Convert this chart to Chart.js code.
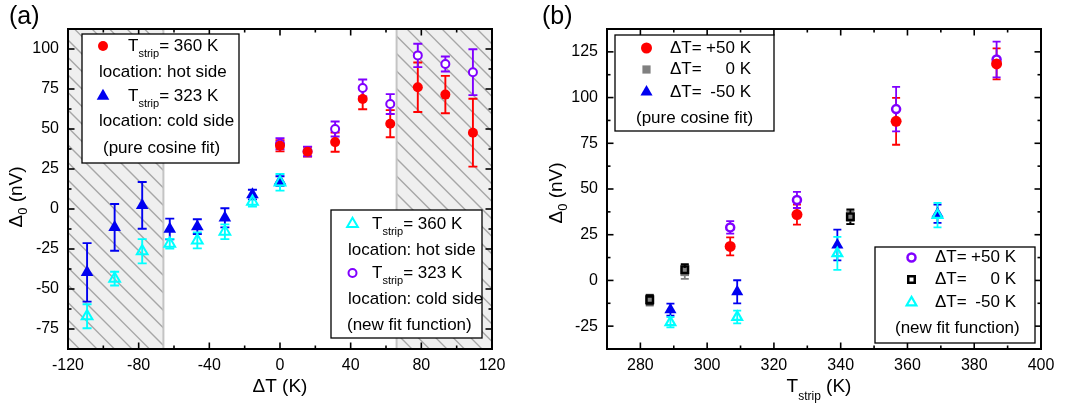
<!DOCTYPE html>
<html><head><meta charset="utf-8">
<script src="https://cdn.jsdelivr.net/npm/chart.js"></script>
<style>
html,body{margin:0;padding:0;background:#fff;}
#wrap{position:relative;width:1075px;height:407px;overflow:hidden;background:#fff;}
canvas{position:absolute;top:0;}
#ca{left:0;} #cb{left:537px;}
</style></head><body>
<div id="wrap"><canvas id="ca" width="537" height="407"></canvas><canvas id="cb" width="538" height="407"></canvas></div>
<script>
// ---------------- Panel (a) data: Δ0 (nV) vs ΔT (K) ----------------
const dTPos = [0, 15.6, 31.2, 46.8, 62.4, 78, 93.6, 109.2];
const dTNeg = [-109.2, -93.6, -78, -62.4, -46.8, -31.2, -15.6, 0];
const hot360Cos    = [39.5, 35.8, 41.8, 68.7, 53.3, 76.1, 71.5, 47.7];
const hot360CosErr = [3.5, 3, 6, 6.4, 8.5, 15.5, 11.7, 21.2];
const cold323New    = [40.8, 36, 50, 75.6, 65.6, 96, 90.6, 85.5];
const cold323NewErr = [3.5, 3, 4.7, 5.3, 6.2, 7.3, 4.7, 14.3];
const cold323Cos    = [-39.6, -11.5, 2.3, -12.5, -11, -5.5, 9, 17.5];
const cold323CosErr = [18.3, 14.6, 14.6, 6.5, 4.6, 6, 3, 3];
const hot360New    = [-67, -43.5, -26.4, -21.7, -19.6, -14.2, 4.6, 16.7];
const hot360NewErr = [7.5, 4.3, 7.6, 3, 5, 4.6, 3, 5.2];
const xTicksA = [-120, -80, -40, 0, 40, 80, 120];
const xMinorA = [-100, -60, -20, 20, 60, 100];
const yTicksA = [-75, -50, -25, 0, 25, 50, 75, 100];
const yMinorA = [-87.5, -62.5, -37.5, -12.5, 12.5, 37.5, 62.5, 87.5, 112.5];
const hatchA = [[-120, -66], [66, 120]];

// ---------------- Panel (b) data: Δ0 (nV) vs T_strip (K) ----------------
const tStripP50 = [306.9, 326.9, 356.6, 386.7];
const p50Cos    = [18.6, 36, 87, 118.4];
const p50CosErr = [4.9, 5.5, 12.8, 8.5];
const p50New    = [29, 44, 93.7, 120.8];
const p50NewErr = [3.4, 4.4, 12.2, 9.8];
const tStripZero = [282.8, 293.3, 342.9];
const zeroCos    = [-10.8, 4.6, 34.4];
const zeroCosErr = [3, 3.7, 3.5];
const zeroNew    = [-10.6, 5.9, 34.8];
const zeroNewErr = [2.5, 3, 4];
const tStripM50 = [289, 309, 339, 369];
const m50Cos    = [-16, -6.2, 19.4, 36.5];
const m50CosErr = [3.3, 6.3, 8.4, 5];
const m50New    = [-22.9, -20, 14.8, 35.7];
const m50NewErr = [2.8, 3.5, 9, 6.7];
const xTicksB = [280, 300, 320, 340, 360, 380, 400];
const xMinorB = [270, 290, 310, 330, 350, 370, 390];
const yTicksB = [-25, 0, 25, 50, 75, 100, 125];
const yMinorB = [-37.5, -12.5, 12.5, 37.5, 62.5, 87.5, 112.5, 137.5];

// ---------------- styles ----------------
const FONT = '"Liberation Sans", Arial, Helvetica, sans-serif';
const RED = '#ff0000', BLUE = '#0000f0', CYAN = '#00ffff', PURPLE = '#8000ff', GRAY = '#808080', BLACK = '#000000';
const sRedA   = {style:'circle',   r:5,   fill:RED,    stroke:RED,    lw:0};
const sPurA   = {style:'circle',   r:4,   fill:'#ffffff', stroke:PURPLE, lw:2};
const sBlueA  = {style:'triangle', r:7.3, fill:BLUE,   stroke:BLUE,   lw:0};
const sCyanA  = {style:'triangle', r:6.2, fill:'rgba(255,255,255,0)', stroke:CYAN, lw:2};
const sRedB   = {style:'circle',   r:5.5, fill:RED,    stroke:RED,    lw:0};
const sPurB   = {style:'circle',   r:4,   fill:'#ffffff', stroke:PURPLE, lw:2.5};
const sGrayB  = {style:'rect',     r:5.8, fill:GRAY,   stroke:GRAY,   lw:0};
const sBlackB = {style:'rect',     r:4.6, fill:'rgba(255,255,255,0)', stroke:BLACK, lw:2.5};
const sBlueB  = {style:'triangle', r:7,   fill:BLUE,   stroke:BLUE,   lw:0};
const sCyanB  = {style:'triangle', r:5.6, fill:'rgba(255,255,255,0)', stroke:CYAN, lw:2.2};

function pts(xs, ys) { return xs.map((x, i) => ({x: x, y: ys[i]})); }
function ds(label, xs, ys, errs, s, order) {
  return {
    label: label, data: pts(xs, ys), errors: errs, errColor: s.stroke === 'rgba(255,255,255,0)' ? s.fill : (s.lw ? s.stroke : s.fill),
    pointStyle: s.style, pointRadius: s.r, pointHoverRadius: s.r,
    pointBackgroundColor: s.fill, pointBorderColor: s.stroke, pointBorderWidth: s.lw,
    pointHoverBorderWidth: s.lw, showLine: false, order: order
  };
}

function drawMarker(ctx, m, x, y) {
  ctx.save();
  ctx.beginPath();
  const r = m.r;
  if (m.style === 'circle') ctx.arc(x, y, r, 0, Math.PI * 2);
  else if (m.style === 'triangle') {
    ctx.moveTo(x, y - r);
    ctx.lineTo(x + r * Math.sin(2 * Math.PI / 3), y - r * Math.cos(2 * Math.PI / 3));
    ctx.lineTo(x + r * Math.sin(4 * Math.PI / 3), y - r * Math.cos(4 * Math.PI / 3));
    ctx.closePath();
  } else if (m.style === 'rect') {
    const s = r * Math.SQRT1_2; ctx.rect(x - s, y - s, 2 * s, 2 * s);
  }
  ctx.fillStyle = m.fill; ctx.fill();
  if (m.lw) { ctx.lineWidth = m.lw; ctx.strokeStyle = m.stroke; ctx.stroke(); }
  ctx.restore();
}

function drawParts(ctx, parts, x, y, align) {
  let total = 0;
  parts.forEach(p => { ctx.font = (p.size || 17) + 'px ' + FONT; p.w = ctx.measureText(p.t).width; total += p.w; });
  let cx = align === 'center' ? x - total / 2 : (align === 'right' ? x - total : x);
  ctx.textBaseline = 'middle'; ctx.textAlign = 'left'; ctx.fillStyle = '#000';
  parts.forEach(p => { ctx.font = (p.size || 17) + 'px ' + FONT; ctx.fillText(p.t, cx, y + (p.dy || 0)); cx += p.w; });
}

const decor = {
  id: 'decor',
  beforeDatasetsDraw(chart, args, o) {
    const ctx = chart.ctx, a = chart.chartArea, xs = chart.scales.x, ys = chart.scales.y;
    (o.hatch || []).forEach(([v0, v1]) => {
      const p0 = xs.getPixelForValue(v0), p1 = xs.getPixelForValue(v1);
      ctx.save();
      ctx.beginPath(); ctx.rect(p0, a.top, p1 - p0, a.bottom - a.top); ctx.clip();
      ctx.fillStyle = '#efefef'; ctx.fillRect(p0, a.top, p1 - p0, a.bottom - a.top);
      ctx.strokeStyle = '#a6a6a6'; ctx.lineWidth = 1.3;
      const h = a.bottom - a.top;
      for (let s = a.left - h - 6; s < a.right + 20; s += 17.5) {
        ctx.beginPath(); ctx.moveTo(s, a.top); ctx.lineTo(s + h, a.bottom); ctx.stroke();
      }
      ctx.restore();
      ctx.save(); ctx.strokeStyle = '#c4c4c4'; ctx.lineWidth = 2;
      [v0, v1].forEach(v => { if (Math.abs(v) < 100) { const p = xs.getPixelForValue(v); ctx.beginPath(); ctx.moveTo(p, a.top); ctx.lineTo(p, a.bottom); ctx.stroke(); } });
      ctx.restore();
    });
    // error bars
    ctx.save();
    chart.data.datasets.forEach(d => {
      if (!d.errors) return;
      ctx.strokeStyle = d.errColor; ctx.lineWidth = o.errLw || 1.8;
      const cap = o.cap || 4.5;
      d.data.forEach((p, j) => {
        const e = d.errors[j];
        const px = xs.getPixelForValue(p.x), pt = ys.getPixelForValue(p.y + e), pb = ys.getPixelForValue(p.y - e);
        ctx.beginPath();
        ctx.moveTo(px, pt); ctx.lineTo(px, pb);
        ctx.moveTo(px - cap, pt); ctx.lineTo(px + cap, pt);
        ctx.moveTo(px - cap, pb); ctx.lineTo(px + cap, pb);
        ctx.stroke();
      });
    });
    ctx.restore();
  },
  afterDatasetsDraw(chart, args, o) {
    const ctx = chart.ctx, a = chart.chartArea, xs = chart.scales.x, ys = chart.scales.y;
    ctx.save();
    ctx.strokeStyle = '#000'; ctx.lineWidth = 1.6;
    const tick = (vals, len) => {
      vals.forEach(v => {
        const px = xs.getPixelForValue(v);
        if (px > a.left + 1 && px < a.right - 1) {
          ctx.beginPath(); ctx.moveTo(px, a.bottom); ctx.lineTo(px, a.bottom - len); ctx.stroke();
          ctx.beginPath(); ctx.moveTo(px, a.top); ctx.lineTo(px, a.top + len); ctx.stroke();
        }
      });
    };
    const tickY = (vals, len) => {
      vals.forEach(v => {
        const py = ys.getPixelForValue(v);
        if (py > a.top + 1 && py < a.bottom - 1) {
          ctx.beginPath(); ctx.moveTo(a.left, py); ctx.lineTo(a.left + len, py); ctx.stroke();
          ctx.beginPath(); ctx.moveTo(a.right, py); ctx.lineTo(a.right - len, py); ctx.stroke();
        }
      });
    };
    tick(o.xMajor, 6.5); tick(o.xMinor, 3.5); tickY(o.yMajor, 6.5); tickY(o.yMinor, 3.5);
    ctx.lineWidth = 2;
    ctx.strokeRect(a.left, a.top, a.right - a.left, a.bottom - a.top);
    ctx.restore();
  },
  afterDraw(chart, args, o) {
    const ctx = chart.ctx;
    ctx.save();
    (o.legends || []).forEach(L => {
      ctx.fillStyle = '#fff'; ctx.fillRect(L.box[0], L.box[1], L.box[2], L.box[3]);
      ctx.strokeStyle = '#000'; ctx.lineWidth = 1.3; ctx.strokeRect(L.box[0], L.box[1], L.box[2], L.box[3]);
      L.rows.forEach(r => {
        if (r.m) drawMarker(ctx, r.m, r.mx, r.y);
        if (r.parts) drawParts(ctx, r.parts, r.x, r.y, 'left');
        if (r.right) drawParts(ctx, r.right, r.rx, r.y, 'right');
      });
    });
    // panel label
    drawParts(ctx, [{t: o.label, size: 25}], o.labelX, 17, 'left');
    // x title
    drawParts(ctx, o.xTitle, o.xTitleX, 387, 'center');
    // y title (rotated)
    ctx.save();
    ctx.translate(o.yTitleX, o.yTitleY); ctx.rotate(-Math.PI / 2);
    drawParts(ctx, o.yTitle, 0, 0, 'center');
    ctx.restore();
    ctx.restore();
  }
};
Chart.register(decor);

function scaleOpts(min, max, ticks, fitW, fitH, isX) {
  const s = {
    type: 'linear', min: min, max: max,
    afterBuildTicks: sc => { sc.ticks = ticks.map(v => ({value: v})); },
    grid: {display: false, drawTicks: false}, border: {display: false},
    ticks: {color: '#000', font: {family: FONT, size: 16}, padding: isX ? 7 : 9, maxRotation: 0, autoSkip: false}
  };
  if (isX) s.afterFit = sc => { sc.height = fitH; };
  else s.afterFit = sc => { sc.width = fitW; };
  return s;
}

const yTitle = [{t: 'Δ', size: 19}, {t: '0', size: 13, dy: 6}, {t: ' (nV)', size: 19}];

// ---------------- Chart (a) ----------------
new Chart(document.getElementById('ca'), {
  type: 'scatter',
  data: {datasets: [
    ds('T_strip = 360 K, hot side (pure cosine fit)', dTPos, hot360Cos, hot360CosErr, sRedA, 1),
    ds('T_strip = 323 K, cold side (pure cosine fit)', dTNeg, cold323Cos, cold323CosErr, sBlueA, 2),
    ds('T_strip = 360 K, hot side (new fit function)', dTNeg, hot360New, hot360NewErr, sCyanA, 1),
    ds('T_strip = 323 K, cold side (new fit function)', dTPos, cold323New, cold323NewErr, sPurA, 2)
  ]},
  options: {
    responsive: false, animation: false, events: [],
    layout: {padding: {top: 29, right: 45, left: 0, bottom: 0}},
    scales: {
      x: scaleOpts(-120, 120, xTicksA, 0, 58, true),
      y: scaleOpts(-87.5, 112.5, yTicksA, 68, 0, false)
    },
    plugins: {
      legend: {display: false}, tooltip: {enabled: false},
      decor: {
        hatch: hatchA, xMajor: xTicksA, xMinor: xMinorA, yMajor: yTicksA, yMinor: yMinorA, cap: 4.5, errLw: 1.9,
        label: '(a)', labelX: 9,
        xTitle: [{t: 'ΔT (K)', size: 19}], xTitleX: 280,
        yTitle: yTitle, yTitleX: 17, yTitleY: 197,
        legends: [
          {box: [82, 34, 157, 129], rows: [
            {m: sRedA, mx: 103, y: 46, x: 128, parts: [{t: 'T'}, {t: 'strip', size: 11, dy: 8}, {t: '= 360 K'}]},
            {y: 72, x: 99, parts: [{t: 'location: hot side'}]},
            {m: sBlueA, mx: 103, y: 96, x: 128, parts: [{t: 'T'}, {t: 'strip', size: 11, dy: 8}, {t: '= 323 K'}]},
            {y: 121, x: 99, parts: [{t: 'location: cold side'}]},
            {y: 148, x: 103, parts: [{t: '(pure cosine fit)'}]}
          ]},
          {box: [331, 210, 151, 128], rows: [
            {m: sCyanA, mx: 352.5, y: 224, x: 372, parts: [{t: 'T'}, {t: 'strip', size: 11, dy: 8}, {t: '= 360 K'}]},
            {y: 250, x: 348, parts: [{t: 'location: hot side'}]},
            {m: sPurA, mx: 352.5, y: 273, x: 372, parts: [{t: 'T'}, {t: 'strip', size: 11, dy: 8}, {t: '= 323 K'}]},
            {y: 299, x: 348, parts: [{t: 'location: cold side'}]},
            {y: 325, x: 347, parts: [{t: '(new fit function)'}]}
          ]}
        ]
      }
    }
  }
});

// ---------------- Chart (b) ----------------
new Chart(document.getElementById('cb'), {
  type: 'scatter',
  data: {datasets: [
    ds('ΔT = +50 K (pure cosine fit)', tStripP50, p50Cos, p50CosErr, sRedB, 1),
    ds('ΔT = +50 K (new fit function)', tStripP50, p50New, p50NewErr, sPurB, 2),
    ds('ΔT = 0 K (pure cosine fit)', tStripZero, zeroCos, zeroCosErr, sGrayB, 2),
    ds('ΔT = 0 K (new fit function)', tStripZero, zeroNew, zeroNewErr, sBlackB, 1),
    ds('ΔT = -50 K (pure cosine fit)', tStripM50, m50Cos, m50CosErr, sBlueB, 2),
    ds('ΔT = -50 K (new fit function)', tStripM50, m50New, m50NewErr, sCyanB, 1)
  ]},
  options: {
    responsive: false, animation: false, events: [],
    layout: {padding: {top: 29, right: 34, left: 0, bottom: 0}},
    scales: {
      x: scaleOpts(270, 400, xTicksB, 0, 58, true),
      y: scaleOpts(-37.5, 137.5, yTicksB, 70, 0, false)
    },
    plugins: {
      legend: {display: false}, tooltip: {enabled: false},
      decor: {
        xMajor: xTicksB, xMinor: xMinorB, yMajor: yTicksB, yMinor: yMinorB, cap: 4, errLw: 1.8,
        label: '(b)', labelX: 5,
        xTitle: [{t: 'T', size: 19}, {t: 'strip', size: 12, dy: 10}, {t: ' (K)', size: 19}], xTitleX: 282,
        yTitle: yTitle, yTitleX: 20, yTitleY: 193,
        legends: [
          {box: [78, 35, 159, 96], rows: [
            {m: sRedB, mx: 109.5, y: 48, x: 133, parts: [{t: 'ΔT='}], rx: 214, right: [{t: '+50 K'}]},
            {m: sGrayB, mx: 109.5, y: 69.5, x: 133, parts: [{t: 'ΔT='}], rx: 214, right: [{t: '0 K'}]},
            {m: sBlueB, mx: 109.5, y: 92, x: 133, parts: [{t: 'ΔT='}], rx: 214, right: [{t: '-50 K'}]},
            {y: 118.5, x: 99, parts: [{t: '(pure cosine fit)'}]}
          ]},
          {box: [338, 247, 160, 96], rows: [
            {m: sPurB, mx: 374.5, y: 257.5, x: 398, parts: [{t: 'ΔT='}], rx: 479, right: [{t: '+50 K'}]},
            {m: sBlackB, mx: 374.5, y: 279.5, x: 398, parts: [{t: 'ΔT='}], rx: 479, right: [{t: '0 K'}]},
            {m: sCyanB, mx: 374.5, y: 302.5, x: 398, parts: [{t: 'ΔT='}], rx: 479, right: [{t: '-50 K'}]},
            {y: 328.5, x: 358, parts: [{t: '(new fit function)'}]}
          ]}
        ]
      }
    }
  }
});
</script>
</body></html>
